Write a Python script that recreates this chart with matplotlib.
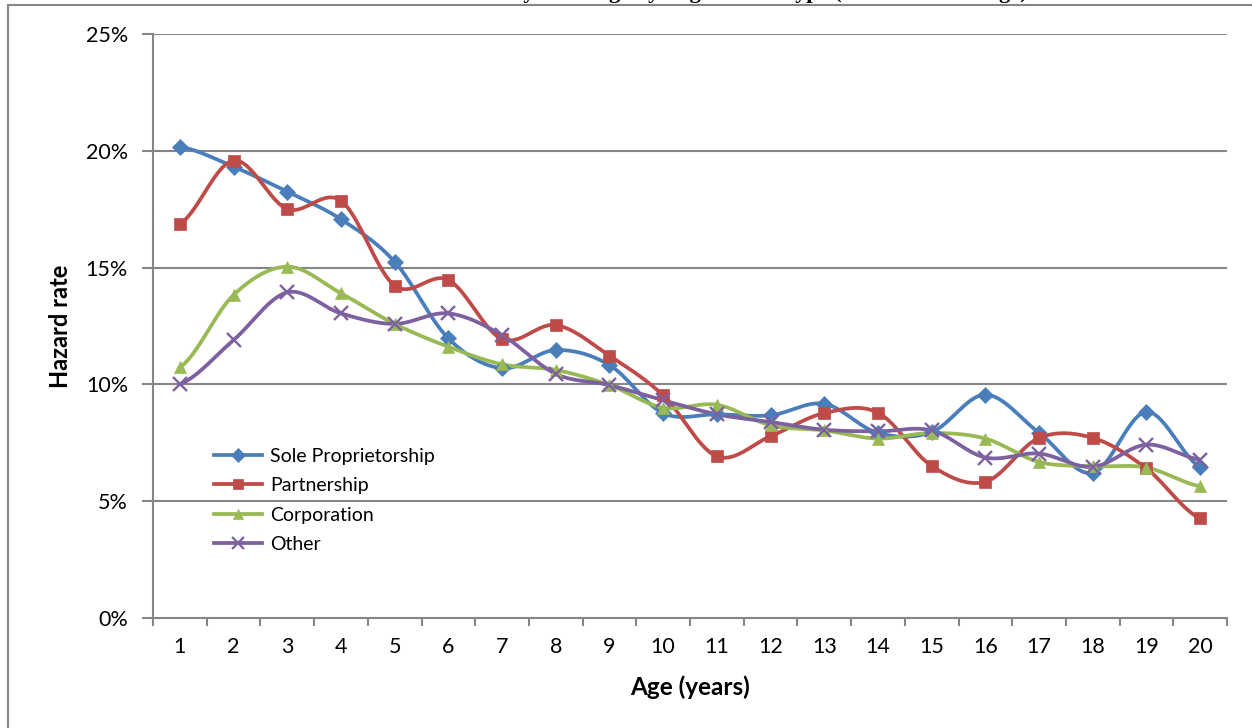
import numpy as np
import matplotlib
matplotlib.use("Agg")
import matplotlib.pyplot as plt
from matplotlib.lines import Line2D
from matplotlib.patches import Rectangle

plt.rcParams['font.family'] = ['Lato', 'DejaVu Sans']

ages = list(range(1, 21))
sole = [20.18, 19.32, 18.25, 17.07, 15.25, 11.97, 10.69, 11.47, 10.83, 8.77,
        8.72, 8.68, 9.17, 7.92, 7.96, 9.56, 7.93, 6.21, 8.82, 6.47]
partnership = [16.87, 19.58, 17.51, 17.86, 14.23, 14.47, 11.94, 12.54, 11.23, 9.53,
               6.92, 7.78, 8.77, 8.79, 6.51, 5.83, 7.71, 7.71, 6.40, 4.26]
corporation = [10.73, 13.83, 15.04, 13.90, 12.59, 11.61, 10.86, 10.62, 9.97, 9.00,
               9.13, 8.25, 8.03, 7.68, 7.92, 7.68, 6.68, 6.50, 6.44, 5.64]
other = [10.00, 11.90, 13.94, 13.04, 12.59, 13.04, 12.11, 10.45, 9.97, 9.32,
         8.72, 8.39, 8.06, 7.99, 8.03, 6.87, 7.04, 6.47, 7.42, 6.78]

series_names = ["Sole Proprietorship", "Partnership", "Corporation", "Other"]
series_values = [sole, partnership, corporation, other]
colors = ["#4A7EBB", "#BE4B48", "#98B954", "#7D60A0"]
markers = ["D", "s", "^", "x"]
msizes = [8.5, 8.5, 9, 9.5]

y_ticks = [0, 5, 10, 15, 20, 25]
y_ticklabels = ["0%", "5%", "10%", "15%", "20%", "25%"]


def smooth(x, y, n=30):
    """Excel-like smoothed line (Catmull-Rom / cubic Bezier)."""
    x = np.asarray(x, float)
    y = np.asarray(y, float)
    xs, ys = [], []
    m = len(x)
    for i in range(m - 1):
        p0 = y[i - 1] if i > 0 else y[i]
        p1, p2 = y[i], y[i + 1]
        p3 = y[i + 2] if i + 2 < m else y[i + 1]
        c1 = p1 + (p2 - p0) / 6.0
        c2 = p2 - (p3 - p1) / 6.0
        t = np.linspace(0, 1, n, endpoint=(i == m - 2))
        yy = (1 - t) ** 3 * p1 + 3 * (1 - t) ** 2 * t * c1 + 3 * (1 - t) * t ** 2 * c2 + t ** 3 * p2
        xx = x[i] + t * (x[i + 1] - x[i])
        xs.append(xx)
        ys.append(yy)
    return np.concatenate(xs), np.concatenate(ys)


W, H = 1252, 728
fig = plt.figure(figsize=(W / 100, H / 100), dpi=100)

# outer chart frame
fig.patches.append(Rectangle((8 / W, -0.05), 1.2, (H - 5) / H + 0.05, transform=fig.transFigure,
                             fill=False, edgecolor="#868686", linewidth=1.5, zorder=0))

left, right, top, bottom = 153, 1227, 34, 618
ax = fig.add_axes([left / W, 1 - bottom / H, (right - left) / W, (bottom - top) / H])

grid_c = "#868686"
for yv in y_ticks[1:]:
    ax.axhline(yv, color=grid_c, linewidth=1.5, zorder=1)

for name, vals, c, mk, ms in zip(series_names, series_values, colors, markers, msizes):
    sx, sy = smooth(ages, vals)
    ax.plot(sx, sy, color=c, linewidth=2.7, zorder=3, solid_capstyle='round')
    ax.plot(ages, vals, linestyle='none', marker=mk, markersize=ms, color=c,
            markeredgecolor=c, markeredgewidth=1.7 if mk == 'x' else 0.5, zorder=4)

ax.set_xlim(0.5, 20.5)
ax.set_ylim(0, 25)
ax.set_yticks(y_ticks)
ax.set_yticklabels(y_ticklabels)
ax.set_xticks(ages)
ax.set_xticklabels([str(a) for a in ages])
ax.set_xticks(np.arange(0.5, 21.0, 1.0), minor=True)
ax.tick_params(axis='x', which='major', length=0, pad=14, labelsize=15.5)
ax.tick_params(axis='x', which='minor', length=6, width=1.5, color=grid_c, direction='out')
ax.tick_params(axis='y', length=8, width=1.5, color=grid_c, direction='out', pad=10, labelsize=15.5)

for s in ["top", "right"]:
    ax.spines[s].set_visible(False)
for s in ["left", "bottom"]:
    ax.spines[s].set_color(grid_c)
    ax.spines[s].set_linewidth(1.5)

ax.set_xlabel("Age (years)", fontsize=17.5, fontweight='bold', labelpad=13)
ax.set_ylabel("Hazard rate", fontsize=17, fontweight='bold', labelpad=10)

handles = [Line2D([], [], color=c, linewidth=2.7, marker=mk, markersize=ms * 0.85,
                  markeredgewidth=1.6 if mk == 'x' else 0.5)
           for c, mk, ms in zip(colors, markers, msizes)]
leg = ax.legend(handles, series_names, loc='upper left',
                bbox_to_anchor=((214 - left) / (right - left), (bottom - 448) / (bottom - top)),
                frameon=False, fontsize=14, handlelength=2.45, handletextpad=0.45,
                labelspacing=0.63, borderaxespad=0, borderpad=0)

# title (cut off at the top of the image in the reference)
fig.text(0.56, 1 + 2 / H, "Hazard Rates by Firm Age by Legal Form Type (1990-2010 Average)",
         ha='center', va='baseline', fontsize=16, fontweight='bold', family='Liberation Serif')

fig.savefig("out.png", dpi=100)
